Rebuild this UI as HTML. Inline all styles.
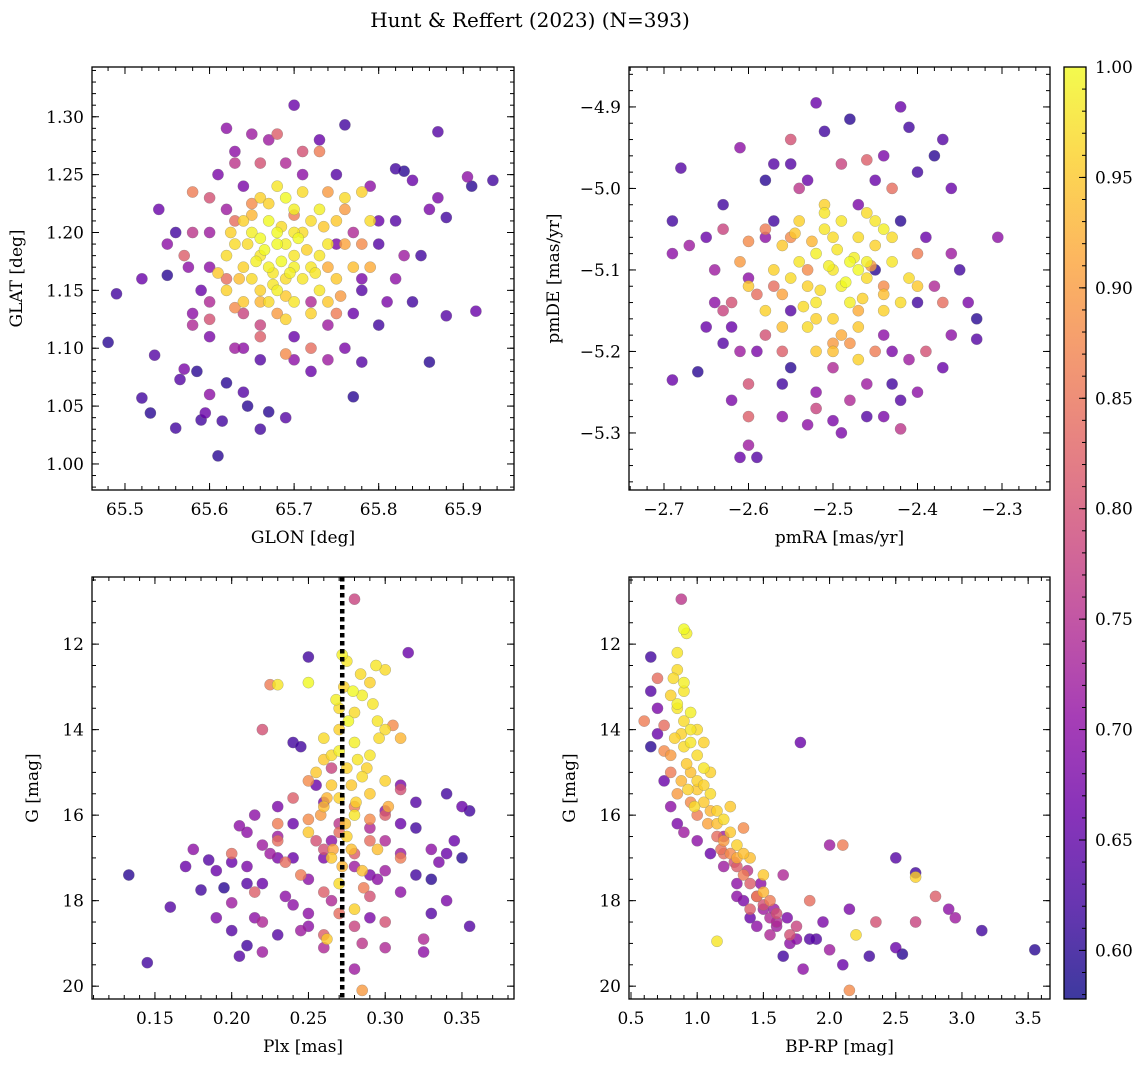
<!DOCTYPE html>
<html><head><meta charset="utf-8"><style>
html,body{margin:0;padding:0;background:#fff;}
svg{display:block;font-family:"DejaVu Serif","Liberation Serif",serif;}
</style></head><body>
<svg id="fig" width="1148" height="1067" viewBox="0 0 1148 1067" xmlns="http://www.w3.org/2000/svg">
<defs><linearGradient id="cmap" x1="0" y1="1" x2="0" y2="0"></linearGradient></defs>
<text x="530" y="27" font-size="20" text-anchor="middle">Hunt &amp; Reffert (2023) (N=393)</text>
</svg>
<script>
// ---------- Panel A: GLON vs GLAT ----------
const glonX = [65.48,65.49,65.52,65.53,65.535,65.54,65.55,65.56,65.565,65.57,65.585,65.59,65.595,65.60,65.61,65.615,65.64,65.645,65.66,65.67,65.69,65.70,65.65,65.62,65.76,65.77,65.78,65.82,65.83,65.84,65.86,65.87,65.87,65.88,65.905,65.91,65.915,65.935,65.88,65.86,65.8,65.82,65.8,65.78,65.76,65.74,65.72,65.7,65.66,65.63,65.6,65.58,65.575,65.59,65.6,65.61,65.63,65.73,65.75,65.79,65.83,65.81,65.84,65.77,65.58,65.55,65.62,65.64,65.69,65.71,
65.57,65.58,65.6,65.62,65.64,65.66,65.68,65.73,65.74,65.78,65.79,65.72,65.69,65.6,65.66,65.75,65.63,65.76,65.65,65.7,
65.66,65.67,65.68,65.69,65.70,65.65,65.64,65.67,65.71,65.72,65.68,65.66,65.63,65.74,65.73,65.69,65.66,65.62,65.7,65.75,65.68,65.69,65.65,65.71,65.64,65.76,65.75,65.73,65.67,65.7,65.62,65.64,65.68,65.77,65.72,65.74,65.79,65.78,65.61,65.69,65.66,65.7,65.675,65.685,
65.655,65.665,65.675,65.685,65.695,65.705,65.715,65.725,65.735,65.645,65.635,65.625,65.66,65.68,65.7,65.72,65.74,65.67,65.69,65.71,65.65,65.73,65.63,65.76,65.755,
65.52,65.56,65.6,65.63,65.67,65.71,65.75,65.8,65.85,65.6,65.64,65.7,65.74,65.78,65.82,65.58,65.62,65.66,65.72,65.77];
const glatY = [1.105,1.147,1.057,1.044,1.094,1.22,1.163,1.031,1.073,1.082,1.08,1.038,1.044,1.06,1.007,1.037,1.062,1.05,1.03,1.045,1.04,1.31,1.285,1.29,1.293,1.058,1.088,1.255,1.253,1.245,1.088,1.287,1.23,1.213,1.248,1.24,1.132,1.245,1.128,1.22,1.21,1.16,1.12,1.15,1.1,1.09,1.08,1.09,1.09,1.1,1.11,1.12,1.17,1.15,1.2,1.25,1.27,1.28,1.25,1.24,1.18,1.14,1.14,1.2,1.2,1.19,1.22,1.24,1.26,1.25,
1.18,1.235,1.23,1.16,1.13,1.26,1.285,1.27,1.235,1.19,1.17,1.1,1.095,1.125,1.11,1.13,1.21,1.22,1.225,1.215,
1.18,1.17,1.19,1.16,1.18,1.2,1.17,1.21,1.2,1.17,1.15,1.15,1.19,1.19,1.22,1.23,1.23,1.18,1.14,1.16,1.2,1.19,1.16,1.16,1.21,1.23,1.21,1.15,1.14,1.22,1.15,1.14,1.24,1.17,1.13,1.14,1.21,1.235,1.165,1.125,1.195,1.17,1.165,1.175,
1.175,1.185,1.155,1.205,1.165,1.195,1.185,1.165,1.205,1.19,1.16,1.2,1.14,1.13,1.2,1.21,1.17,1.225,1.145,1.235,1.215,1.18,1.135,1.19,1.145,
1.16,1.2,1.17,1.26,1.28,1.27,1.19,1.19,1.18,1.14,1.1,1.11,1.12,1.16,1.21,1.13,1.07,1.12,1.14,1.13];
const probA = [0.6,0.62,0.62,0.6,0.64,0.66,0.6,0.62,0.64,0.68,0.6,0.62,0.66,0.7,0.6,0.62,0.64,0.6,0.62,0.6,0.64,0.66,0.72,0.7,0.62,0.6,0.64,0.62,0.6,0.66,0.6,0.64,0.68,0.62,0.7,0.6,0.66,0.62,0.64,0.68,0.66,0.7,0.62,0.64,0.68,0.72,0.66,0.7,0.64,0.72,0.68,0.74,0.7,0.66,0.72,0.68,0.7,0.66,0.64,0.7,0.72,0.68,0.62,0.74,0.76,0.7,0.72,0.68,0.74,0.7,
0.82,0.86,0.8,0.84,0.78,0.8,0.82,0.86,0.9,0.88,0.92,0.84,0.88,0.8,0.82,0.86,0.84,0.9,0.88,0.86,
0.98,0.99,1.0,0.97,0.98,0.99,0.96,1.0,0.97,0.98,0.99,0.96,0.97,0.98,0.99,1.0,0.96,0.97,0.98,0.95,1.0,0.99,0.97,0.98,0.96,0.97,0.95,0.98,0.97,0.99,0.96,0.95,0.98,0.94,0.96,0.95,0.97,0.96,0.95,0.96,1.0,0.99,0.98,1.0,
0.99,1.0,0.98,0.97,0.99,1.0,0.96,0.98,0.95,0.97,0.94,0.96,0.93,0.9,0.98,0.97,0.92,0.96,0.95,0.97,0.93,0.98,0.88,0.91,0.9,
0.66,0.62,0.7,0.76,0.72,0.8,0.68,0.64,0.62,0.74,0.7,0.66,0.72,0.68,0.64,0.7,0.6,0.78,0.74,0.66];

// ---------- Panel B: pmRA vs pmDE ----------
const pmraX = [-2.69,-2.69,-2.69,-2.68,-2.67,-2.66,-2.65,-2.64,-2.63,-2.63,-2.62,-2.61,-2.61,-2.6,-2.59,-2.58,-2.56,-2.56,-2.55,-2.52,-2.51,-2.5,-2.48,-2.46,-2.44,-2.43,-2.42,-2.42,-2.41,-2.4,-2.38,-2.37,-2.36,-2.35,-2.34,-2.33,-2.33,-2.305,-2.37,-2.36,-2.45,-2.6,-2.57,-2.53,-2.47,-2.44,-2.55,-2.62,-2.4,-2.64,-2.59,-2.5,-2.58,-2.42,-2.55,-2.43,-2.46,-2.52,-2.39,
-2.55,-2.49,-2.46,-2.43,-2.58,-2.6,-2.61,-2.63,-2.6,-2.6,-2.52,-2.42,-2.39,-2.37,-2.4,-2.44,-2.56,-2.5,-2.55,-2.45,-2.59,-2.47,-2.62,
-2.5,-2.52,-2.48,-2.47,-2.53,-2.51,-2.49,-2.46,-2.54,-2.45,-2.44,-2.55,-2.52,-2.5,-2.48,-2.43,-2.41,-2.56,-2.57,-2.53,-2.49,-2.51,-2.47,-2.42,-2.58,-2.5,-2.45,-2.46,-2.54,-2.4,-2.44,-2.52,-2.56,-2.47,-2.6,-2.43,
-2.505,-2.495,-2.485,-2.515,-2.525,-2.475,-2.465,-2.455,-2.535,-2.545,-2.49,-2.51,-2.47,-2.53,-2.44,-2.56,-2.5,-2.48,-2.52,-2.46,
-2.65,-2.61,-2.57,-2.53,-2.48,-2.44,-2.4,-2.36,-2.58,-2.54,-2.45,-2.41,-2.63,-2.38,-2.57,-2.49];
const pmdeY = [-5.04,-5.08,-5.235,-4.975,-5.07,-5.225,-5.17,-5.14,-5.02,-5.19,-5.26,-4.95,-5.33,-5.315,-5.33,-4.99,-5.24,-5.28,-5.22,-4.895,-4.93,-5.285,-4.915,-5.28,-4.96,-5.24,-4.9,-5.26,-4.925,-5.25,-4.96,-4.94,-5.0,-5.1,-5.14,-5.16,-5.185,-5.06,-5.22,-5.08,-5.1,-5.11,-5.04,-4.99,-5.02,-5.18,-5.15,-5.17,-5.14,-5.1,-5.2,-5.22,-5.06,-5.04,-4.97,-5.2,-5.24,-5.25,-5.06,
-4.94,-4.97,-4.965,-5.0,-5.05,-5.065,-5.09,-5.15,-5.24,-5.28,-5.27,-5.295,-5.2,-5.14,-5.08,-5.12,-5.2,-5.19,-5.06,-5.2,-5.13,-5.15,-5.14,
-5.1,-5.08,-5.09,-5.06,-5.12,-5.05,-5.12,-5.11,-5.09,-5.07,-5.05,-5.11,-5.14,-5.16,-5.14,-5.09,-5.11,-5.07,-5.1,-5.17,-5.04,-5.02,-5.17,-5.14,-5.15,-5.2,-5.04,-5.03,-5.04,-5.12,-5.15,-5.2,-5.17,-5.21,-5.12,-5.06,
-5.095,-5.075,-5.115,-5.125,-5.065,-5.085,-5.135,-5.095,-5.145,-5.055,-5.18,-5.03,-5.1,-5.1,-5.13,-5.13,-5.06,-5.19,-5.16,-5.09,
-5.06,-5.2,-4.97,-5.29,-5.26,-5.28,-4.98,-5.18,-5.18,-5.0,-4.99,-5.21,-5.05,-5.12,-5.12,-5.3];
const probB = [0.62,0.7,0.66,0.64,0.72,0.6,0.66,0.7,0.62,0.64,0.68,0.7,0.66,0.72,0.64,0.6,0.62,0.7,0.6,0.66,0.62,0.68,0.6,0.64,0.68,0.62,0.66,0.64,0.62,0.7,0.6,0.64,0.66,0.62,0.68,0.6,0.64,0.7,0.66,0.72,0.6,0.7,0.62,0.66,0.68,0.7,0.64,0.66,0.62,0.72,0.68,0.74,0.7,0.6,0.64,0.68,0.72,0.7,0.66,
0.8,0.78,0.82,0.84,0.86,0.88,0.9,0.78,0.8,0.82,0.78,0.76,0.8,0.84,0.86,0.88,0.82,0.9,0.88,0.86,0.84,0.92,0.8,
0.98,0.99,1.0,0.97,0.96,0.98,0.99,0.97,0.98,0.96,0.99,0.97,0.98,0.96,0.99,0.98,0.97,0.95,0.96,0.97,0.98,0.96,0.95,0.97,0.96,0.94,0.98,0.97,0.96,0.95,0.96,0.95,0.94,0.96,0.95,0.97,
0.99,0.98,1.0,0.97,0.93,0.99,0.96,0.9,0.97,0.95,0.92,0.98,1.0,0.88,0.94,0.91,0.97,0.89,0.96,0.99,
0.66,0.72,0.64,0.7,0.74,0.68,0.62,0.7,0.8,0.76,0.66,0.72,0.78,0.74,0.84,0.68];

// ---------- Panel C: Plx vs G ----------
const plxX = [0.133,0.145,0.16,0.17,0.175,0.18,0.185,0.19,0.195,0.2,0.2,0.205,0.205,0.21,0.21,0.215,0.22,0.22,0.225,0.23,0.23,0.235,0.24,0.24,0.245,0.25,0.25,0.255,0.26,0.26,0.265,0.28,0.285,0.29,0.295,0.3,0.31,0.315,0.32,0.325,0.33,0.335,0.34,0.345,0.35,0.355,0.355,0.35,0.34,0.33,0.32,0.31,0.3,0.29,0.28,0.245,0.23,0.21,0.19,0.2,0.22,0.215,0.325,0.31,0.3,0.265,0.24,0.26,
0.225,0.22,0.23,0.24,0.245,0.25,0.255,0.26,0.265,0.27,0.28,0.285,0.29,0.3,0.305,0.31,0.3,0.235,0.215,0.25,0.28,0.29,0.27,0.23,0.31,0.26,0.2,
0.272,0.275,0.25,0.23,0.28,0.285,0.29,0.3,0.295,0.27,0.27,0.26,0.28,0.29,0.3,0.275,0.265,0.285,0.27,0.28,0.26,0.29,0.275,0.265,0.27,0.28,0.262,0.285,0.25,0.3,0.295,0.265,0.282,0.255,0.273,0.31,0.278,
0.268,0.276,0.284,0.292,0.288,0.278,0.27,0.262,0.258,0.296,0.302,0.274,0.281,0.266,0.29,0.286,0.272,0.279,0.26,0.294,
0.23,0.24,0.25,0.26,0.27,0.28,0.29,0.3,0.31,0.32,0.22,0.21,0.33,0.34,0.25,0.28];
const gmagC = [17.4,19.45,18.15,17.2,16.8,17.75,17.05,18.4,17.7,17.1,18.05,16.25,19.3,19.05,17.2,16.0,18.5,17.6,16.9,18.8,15.8,17.9,14.3,16.2,18.7,12.3,18.3,15.3,19.1,17.0,16.6,19.6,19.0,18.4,17.5,19.1,17.8,12.2,16.3,19.2,18.3,17.1,15.5,16.6,17.0,18.6,15.9,15.8,18.0,16.8,15.7,16.9,15.9,16.3,17.2,14.4,17.0,16.4,17.3,18.7,19.2,18.4,18.9,15.3,17.3,18.0,18.1,15.7,
12.95,14.0,16.6,15.6,17.4,16.1,16.6,17.8,14.9,18.3,10.95,20.1,16.6,16.0,13.9,17.0,18.5,17.1,17.8,15.2,15.8,17.9,16.4,16.2,15.4,18.8,16.9,
12.25,12.4,12.9,12.95,13.6,13.2,12.9,12.6,13.8,13.5,14.0,14.2,14.3,14.6,14.0,14.9,15.3,15.1,15.6,16.0,15.8,15.5,16.5,17.0,17.6,18.2,18.9,17.3,16.4,15.2,16.8,14.6,14.7,15.0,13.0,14.2,16.8,
13.3,13.8,12.7,13.4,14.9,15.3,14.5,15.6,16.0,14.2,15.8,16.2,15.7,16.8,16.1,17.7,17.2,13.1,14.7,12.5,
16.5,17.0,17.5,16.8,16.2,16.9,17.4,16.6,16.2,17.4,16.7,17.6,17.5,16.9,18.6,18.6];
const probC = [0.6,0.62,0.64,0.66,0.7,0.62,0.64,0.68,0.6,0.66,0.72,0.7,0.64,0.62,0.68,0.7,0.74,0.66,0.72,0.64,0.68,0.7,0.62,0.66,0.72,0.62,0.7,0.66,0.74,0.68,0.7,0.72,0.76,0.68,0.7,0.74,0.7,0.66,0.62,0.7,0.64,0.68,0.62,0.66,0.6,0.64,0.62,0.66,0.68,0.7,0.64,0.72,0.7,0.74,0.72,0.62,0.68,0.7,0.66,0.64,0.72,0.7,0.74,0.68,0.72,0.74,0.7,0.68,
0.86,0.8,0.84,0.82,0.86,0.88,0.8,0.82,0.78,0.84,0.78,0.9,0.84,0.82,0.88,0.86,0.8,0.84,0.82,0.88,0.86,0.8,0.84,0.86,0.8,0.82,0.84,
0.99,0.98,1.0,0.98,0.97,0.99,0.96,0.97,0.98,0.97,0.96,0.97,0.99,0.98,0.97,0.96,0.95,0.97,0.96,0.98,0.94,0.95,0.96,0.95,0.97,0.96,0.95,0.94,0.95,0.96,0.94,0.97,0.98,0.95,0.96,0.93,0.94,
0.99,1.0,0.97,0.98,0.96,0.95,0.99,0.93,0.9,0.97,0.92,0.94,0.96,0.91,0.88,0.86,0.93,1.0,0.95,0.98,
0.72,0.66,0.7,0.8,0.76,0.82,0.68,0.74,0.66,0.62,0.72,0.64,0.6,0.66,0.7,0.78];

// ---------- Panel D: BP-RP vs G ----------
const bprpX = [0.9,0.92,0.85,0.85,0.9,0.8,0.85,0.9,0.95,0.88,0.95,1.0,0.92,1.05,1.0,1.1,1.05,1.15,1.2,1.25,1.3,1.4,1.5,1.5,1.35,1.1,0.95,1.25,2.65,2.2,1.15,0.82,0.9,1.0,1.05,
0.6,0.7,0.75,0.8,0.85,0.95,1.0,1.15,1.3,1.45,1.6,1.75,1.85,2.1,2.35,2.65,2.8,2.15,0.88,1.2,1.55,1.35,1.7,1.4,
0.65,0.65,0.7,0.65,0.7,0.75,0.8,0.85,0.9,1.0,1.1,1.2,1.3,1.35,1.4,1.45,1.55,1.65,1.8,1.9,2.0,2.1,2.15,2.3,2.5,2.55,2.5,2.65,2.9,2.95,3.15,3.55,1.78,1.95,2.0,1.6,1.7,1.85,1.5,1.3,1.65,1.2,
0.85,0.9,0.95,1.0,1.05,1.1,1.15,1.2,1.25,1.3,1.35,1.4,1.45,1.5,1.55,1.6,0.8,0.88,0.93,0.98,1.08,1.18,1.28,1.38,1.48,1.58,1.68,1.75,0.75,0.83];
const gmagD = [11.65,11.75,12.2,12.6,12.9,13.2,13.5,13.8,13.6,14.1,14.3,14.6,14.8,14.9,15.2,15.5,15.7,15.9,16.1,16.4,16.7,17.0,17.4,17.8,16.9,15.0,15.0,15.8,17.45,18.8,18.95,12.8,13.1,14.0,14.3,
13.8,12.8,14.5,15.0,15.5,15.7,16.0,16.5,17.2,17.9,18.3,18.6,18.0,16.7,18.5,18.5,17.9,20.1,10.95,16.9,18.0,16.3,18.8,18.2,
12.3,13.1,14.1,14.4,13.5,15.2,15.8,16.2,16.4,16.6,16.9,17.2,17.6,18.0,18.4,18.6,18.8,19.3,19.6,18.9,19.15,19.5,18.2,19.3,19.1,19.25,17.0,17.35,18.2,18.4,18.7,19.15,14.3,18.5,16.7,18.5,19.0,18.9,18.2,17.9,17.4,16.5,
13.4,14.4,14.0,15.4,15.3,15.9,16.2,16.6,16.9,17.0,17.4,17.6,17.9,18.1,18.4,18.6,14.6,15.2,15.4,15.8,16.2,16.8,17.1,17.3,17.6,18.2,18.4,18.9,13.9,14.2];
const probD = [1.0,0.99,0.98,0.97,0.99,0.96,0.98,0.97,0.99,0.96,0.98,0.97,0.95,0.98,0.96,0.97,0.95,0.96,0.97,0.95,0.96,0.94,0.95,0.93,0.94,0.96,0.94,0.95,0.96,0.97,0.98,0.97,0.98,0.97,0.96,
0.86,0.84,0.88,0.86,0.9,0.88,0.86,0.84,0.82,0.86,0.8,0.78,0.84,0.86,0.8,0.78,0.82,0.88,0.76,0.84,0.86,0.88,0.8,0.82,
0.62,0.64,0.66,0.6,0.68,0.66,0.7,0.68,0.72,0.7,0.66,0.72,0.7,0.68,0.66,0.7,0.74,0.62,0.7,0.64,0.72,0.66,0.68,0.62,0.66,0.6,0.64,0.62,0.7,0.72,0.62,0.6,0.66,0.68,0.72,0.74,0.7,0.64,0.72,0.7,0.74,0.72,
0.99,0.97,0.98,0.95,0.96,0.93,0.94,0.9,0.88,0.92,0.86,0.82,0.78,0.8,0.74,0.72,0.9,0.93,0.96,0.97,0.91,0.85,0.8,0.76,0.7,0.72,0.68,0.7,0.84,0.96];

// ---------- Colorbar ticks ----------
const cbarTicks = [0.60,0.65,0.70,0.75,0.80,0.85,0.90,0.95,1.00];

const VMIN = 0.578, VMAX = 1.0;
const stops = ["#0d0887","#41049d","#6a00a8","#8f0da4","#b12a90","#cc4778","#e16462","#f2844b","#fca636","#fcce25","#f0f921"];
function hex(h){return [1,3,5].map(i=>parseInt(h.substr(i,2),16));}
function cmap(v){
  let t=(v-VMIN)/(VMAX-VMIN); t=Math.max(0,Math.min(1,t));
  const f=t*10, i=Math.min(9,Math.floor(f)), r=f-i;
  const a=hex(stops[i]), b=hex(stops[i+1]);
  return "rgb("+a.map((c,k)=>Math.round(c+(b[k]-c)*r)).join(",")+")";
}
const NS="http://www.w3.org/2000/svg";
const svg=document.getElementById("fig");
function mk(tag,attrs,parent){const e=document.createElementNS(NS,tag);for(const k in attrs)e.setAttribute(k,attrs[k]);(parent||svg).appendChild(e);return e;}

function panel(key,box,xd,yd,xMaj,xMin,yMaj,yMin,xf,yf,xs,ys,ps,xl,yl,vline){
  const g=mk("g",{});
  
  
  const sx=v=>box.x0+(v-xd[0])/(xd[1]-xd[0])*(box.x1-box.x0);
  const sy=v=>box.y1-(v-yd[0])/(yd[1]-yd[0])*(box.y1-box.y0);
  const idx=ps.map((p,i)=>i).sort((a,b)=>ps[a]-ps[b]);
  const pg=mk("g",{},g);
  for(const i of idx){
    const c=mk("circle",{cx:sx(xs[i]).toFixed(1),cy:sy(ys[i]).toFixed(1),r:5.6,fill:cmap(ps[i]),"fill-opacity":0.8,stroke:"#777","stroke-width":0.4,"stroke-opacity":0.7},pg);
    
    
  }
  if(vline!==undefined){
    const l=mk("line",{x1:sx(vline),x2:sx(vline),y1:box.y0,y2:box.y1,stroke:"#000","stroke-width":4.5,"stroke-dasharray":"4.5,3.5"},g);
    
    
  }
  const fr=mk("rect",{x:box.x0,y:box.y0,width:box.x1-box.x0,height:box.y1-box.y0,fill:"none",stroke:"#000","stroke-width":1.3},g);
  
  
  const tk=mk("g",{stroke:"#000","stroke-width":1},g);
  const inX=v=>v>=Math.min(...xd)-1e-9&&v<=Math.max(...xd)+1e-9;
  const inY=v=>v>=Math.min(...yd)-1e-9&&v<=Math.max(...yd)+1e-9;
  function ticksX(step,len){const s=Math.ceil(xd[0]/step-1e-6);for(let k=s;k*step<=xd[1];k++){const x=sx(k*step);mk("line",{x1:x,x2:x,y1:box.y1,y2:box.y1-len},tk);mk("line",{x1:x,x2:x,y1:box.y0,y2:box.y0+len},tk);}}
  function ticksY(step,len){const lo=Math.min(...yd),hi=Math.max(...yd);const s=Math.ceil(lo/step-1e-6);for(let k=s;k*step<=hi;k++){const y=sy(k*step);mk("line",{x1:box.x0,x2:box.x0+len,y1:y,y2:y},tk);mk("line",{x1:box.x1,x2:box.x1-len,y1:y,y2:y},tk);}}
  ticksX(xMin,4);ticksY(yMin,4);
  for(const v of xMaj){if(!inX(v))continue;const x=sx(v);mk("line",{x1:x,x2:x,y1:box.y1,y2:box.y1-7},tk);mk("line",{x1:x,x2:x,y1:box.y0,y2:box.y0+7},tk);
    const t=mk("text",{x:x,y:box.y1+25,"font-size":17,"text-anchor":"middle"},g);t.textContent=xf(v);
    
    }
  for(const v of yMaj){if(!inY(v))continue;const y=sy(v);mk("line",{x1:box.x0,x2:box.x0+7,y1:y,y2:y},tk);mk("line",{x1:box.x1,x2:box.x1-7,y1:y,y2:y},tk);
    const t=mk("text",{x:box.x0-8,y:y+6,"font-size":17,"text-anchor":"end"},g);t.textContent=yf(v);
    
    }
  const xt=mk("text",{x:(box.x0+box.x1)/2,y:box.y1+53,"font-size":17,"text-anchor":"middle"},g);xt.textContent=xl;
  
  
  const yc=(box.y0+box.y1)/2, yx=box.x0-(key==="glat"||key==="pmde"?70:54);
  const yt=mk("text",{x:yx,y:yc,"font-size":17,"text-anchor":"middle",transform:"rotate(-90 "+yx+" "+yc+")"},g);yt.textContent=yl;
  
  
}
const f1=v=>v.toFixed(1),f2=v=>v.toFixed(2),f0=v=>v.toFixed(0);
const fm=v=>(v<0?"\u2212":"")+Math.abs(v).toFixed(1);
panel("glat",{x0:92,x1:514,y0:67,y1:490},[65.461,65.960],[0.9775,1.343],[65.5,65.6,65.7,65.8,65.9],0.02,[1.0,1.05,1.1,1.15,1.2,1.25,1.3],0.01,f1,f2,glonX,glatY,probA,"GLON [deg]","GLAT [deg]");
panel("pmde",{x0:629,x1:1050,y0:67,y1:490},[-2.7414,-2.2432],[-5.370,-4.851],[-2.7,-2.6,-2.5,-2.4,-2.3],0.02,[-5.3,-5.2,-5.1,-5.0,-4.9],0.02,fm,fm,pmraX,pmdeY,probB,"pmRA [mas/yr]","pmDE [mas/yr]");
panel("plx",{x0:92,x1:514,y0:577,y1:999},[0.109,0.3839],[20.30,10.43],[0.15,0.2,0.25,0.3,0.35],0.01,[12,14,16,18,20],0.5,f2,f0,plxX,gmagC,probC,"Plx [mas]","G [mag]",0.272);
panel("cmd",{x0:629,x1:1050,y0:577,y1:999},[0.485,3.665],[20.30,10.43],[0.5,1.0,1.5,2.0,2.5,3.0,3.5],0.1,[12,14,16,18,20],0.5,f1,f0,bprpX,gmagD,probD,"BP-RP [mag]","G [mag]");

// colorbar
const grad=document.getElementById("cmap");
for(let i=0;i<=20;i++){const v=VMIN+(VMAX-VMIN)*i/20;mk("stop",{offset:(i/20),"stop-color":cmap(v)},grad);}
const cb={x0:1064,x1:1086,y0:67,y1:999};
const cbg=mk("g",{});


mk("rect",{x:cb.x0,y:cb.y0,width:cb.x1-cb.x0,height:cb.y1-cb.y0,fill:"url(#cmap)","fill-opacity":0.8,stroke:"#000","stroke-width":1.3},cbg);
const cy=v=>cb.y1-(v-VMIN)/(VMAX-VMIN)*(cb.y1-cb.y0);
for(let k=Math.ceil(VMIN*100);k<=100;k++){const y=cy(k/100);mk("line",{x1:cb.x1,x2:cb.x1-4,y1:y,y2:y,stroke:"#000","stroke-width":1},cbg);}
for(const v of cbarTicks){const y=cy(v);mk("line",{x1:cb.x1,x2:cb.x1-7,y1:y,y2:y,stroke:"#000","stroke-width":1},cbg);
  const t=mk("text",{x:cb.x1+9,y:y+6,"font-size":17},cbg);t.textContent=v.toFixed(2);
  
  }
</script>
</body></html>
